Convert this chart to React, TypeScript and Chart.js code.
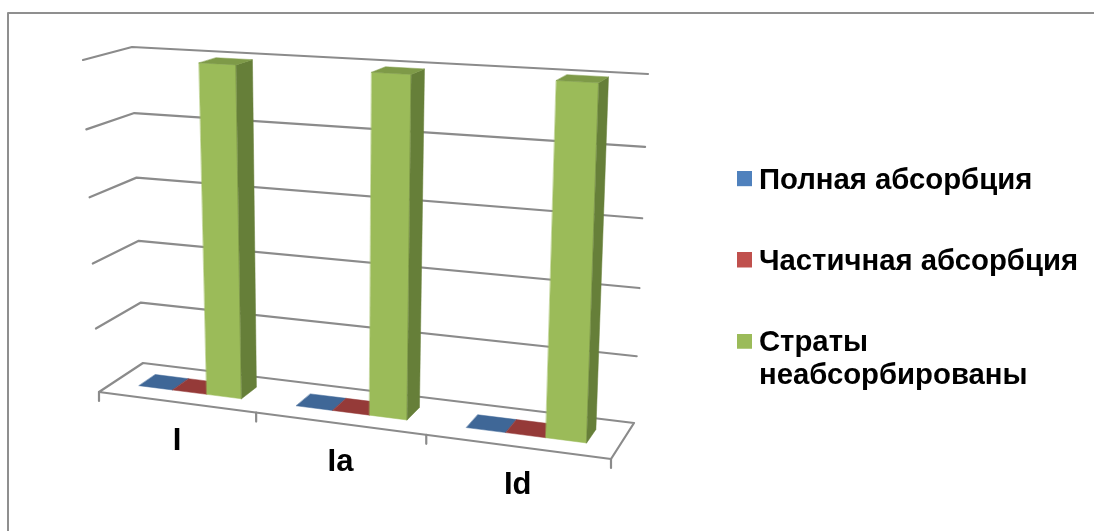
import React, { useEffect, useRef } from "react";
import { Chart, registerables } from "chart.js";

Chart.register(...registerables);

const categories = ["I", "Ia", "Id"];
const fullAbsorption = [0, 0, 0];
const partialAbsorption = [0, 0, 0];
const unabsorbedStrata = [99.5, 99.5, 100];
const valueTicks = { min: 0, max: 100, step: 20 };

type Pt = [number, number];

// Screen corners of the floor and of the ceiling of the 3D box: front-left, front-right, back-right, back-left.
const FLOOR: Pt[] = [[99, 392], [611, 459], [634, 423], [143, 363]];
const CEILING: Pt[] = [[83, 60], [624, 90], [648, 74], [132, 47]];
const BAR_DEPTH: Pt = [0.32, 0.7];
const HEIGHT_WARP = 0.946;
const LINE = "#8b8b8b";
const FONT = '"Liberation Sans", Arial, sans-serif';

function homography(q: Pt[]) {
  const [[x0, y0], [x1, y1], [x2, y2], [x3, y3]] = q;
  const dx1 = x1 - x2, dx2 = x3 - x2, sx = x0 - x1 + x2 - x3;
  const dy1 = y1 - y2, dy2 = y3 - y2, sy = y0 - y1 + y2 - y3;
  const det = dx1 * dy2 - dx2 * dy1;
  const g = (sx * dy2 - dx2 * sy) / det;
  const h = (dx1 * sy - sx * dy1) / det;
  const a = x1 - x0 + g * x1, b = x3 - x0 + h * x3;
  const d = y1 - y0 + g * y1, e = y3 - y0 + h * y3;
  return (u: number, w: number): Pt => {
    const k = g * u + h * w + 1;
    return [(a * u + b * w + x0) / k, (d * u + e * w + y0) / k];
  };
}

const floorAt = homography(FLOOR);
const ceilingAt = homography(CEILING);

// Projects a position (across, up, deep), each in 0..1, onto the canvas.
function project(u: number, v: number, w: number): Pt {
  const f = floorAt(u, w);
  const c = ceilingAt(u, w);
  const t = (HEIGHT_WARP * v) / (1 + (HEIGHT_WARP - 1) * v);
  return [f[0] + (c[0] - f[0]) * t, f[1] + (c[1] - f[1]) * t];
}

function polygon(ctx: CanvasRenderingContext2D, pts: Pt[], fill: string) {
  ctx.beginPath();
  pts.forEach((p, i) => (i ? ctx.lineTo(p[0], p[1]) : ctx.moveTo(p[0], p[1])));
  ctx.closePath();
  ctx.fillStyle = fill;
  ctx.fill();
  ctx.strokeStyle = fill;
  ctx.lineWidth = 0.5;
  ctx.stroke();
}

function polyline(ctx: CanvasRenderingContext2D, pts: Pt[], close = false) {
  ctx.beginPath();
  pts.forEach((p, i) => (i ? ctx.lineTo(p[0], p[1]) : ctx.moveTo(p[0], p[1])));
  if (close) ctx.closePath();
  ctx.stroke();
}

// Legend swatch; the extra rows below the square lift it slightly relative to the text.
function legendSwatch(color: string) {
  const c = document.createElement("canvas");
  c.width = 15;
  c.height = 19;
  const g = c.getContext("2d")!;
  g.fillStyle = color;
  g.fillRect(0, 0, 15, 15);
  return c;
}

const box3d = {
  id: "box3d",
  beforeDatasetsDraw(chart: any) {
    const { ctx, chartArea: area, scales } = chart;
    const toU = (px: number) => (px - area.left) / area.width;
    const toV = (py: number) => (area.bottom - py) / area.height;

    ctx.save();
    ctx.lineCap = "round";
    ctx.lineJoin = "round";

    // Outer frame, running off the right and bottom of the canvas
    ctx.strokeStyle = "#8f8f8f";
    ctx.lineWidth = 2;
    ctx.strokeRect(8, 13, 1200, 600);

    // Value gridlines along the side wall and the back wall
    ctx.strokeStyle = LINE;
    ctx.lineWidth = 2.2;
    for (const tick of scales.y.ticks) {
      const v = toV(scales.y.getPixelForValue(tick.value));
      if (v > 0.001) polyline(ctx, [project(0, v, 0), project(0, v, 1), project(1, v, 1)]);
    }

    // Floor outline and category tick marks
    polyline(ctx, [project(0, 0, 0), project(1, 0, 0), project(1, 0, 1), project(0, 0, 1)], true);
    for (let i = 0; i <= categories.length; i++) {
      const p = project(toU(scales.x.getPixelForValue(i - 0.5)), 0, 0);
      polyline(ctx, [p, [p[0], p[1] + 9]]);
    }

    // Bars as boxes: front face, right side, top
    chart.data.datasets.forEach((ds: any, di: number) => {
      chart.getDatasetMeta(di).data.forEach((bar: any) => {
        const u0 = toU(bar.x - bar.width / 2);
        const u1 = toU(bar.x + bar.width / 2);
        const v0 = toV(bar.base);
        const v1 = toV(bar.y);
        const [w0, w1] = BAR_DEPTH;
        if (v1 > v0) {
          polygon(ctx, [project(u0, v0, w0), project(u1, v0, w0), project(u1, v1, w0), project(u0, v1, w0)], ds.backgroundColor);
          polygon(ctx, [project(u1, v0, w0), project(u1, v0, w1), project(u1, v1, w1), project(u1, v1, w0)], ds.sideColor);
        }
        polygon(ctx, [project(u0, v1, w0), project(u1, v1, w0), project(u1, v1, w1), project(u0, v1, w1)], ds.topColor);
      });
    });

    // Category labels under the front edge of the floor
    ctx.fillStyle = "#000";
    ctx.font = `bold 31px ${FONT}`;
    ctx.textAlign = "center";
    ctx.textBaseline = "middle";
    categories.forEach((label, i) => {
      const p = project(toU(scales.x.getPixelForValue(i)), 0, 0);
      ctx.fillText(label, p[0] + 1, p[1] + 39);
    });
    ctx.restore();
    return false;
  },
};

export default function App() {
  const ref = useRef<HTMLCanvasElement>(null);
  useEffect(() => {
    const series = [
      { label: "Полная абсорбция", data: fullAbsorption, backgroundColor: "#4F81BD", topColor: "#3F6797", sideColor: "#335279", text: "Полная абсорбция" },
      { label: "Частичная абсорбция", data: partialAbsorption, backgroundColor: "#C0504D", topColor: "#953A38", sideColor: "#7A2F2D", text: "Частичная абсорбция" },
      { label: "Страты неабсорбированы", data: unabsorbedStrata, backgroundColor: "#9BBB59", topColor: "#7E9A48", sideColor: "#667F39", text: ["Страты", "неабсорбированы"] },
    ];
    const chart = new Chart(ref.current!, {
      type: "bar",
      data: { labels: categories, datasets: series as any },
      plugins: [box3d],
      options: {
        responsive: false,
        animation: false,
        layout: { padding: { top: 114, right: 6 } },
        datasets: { bar: { categoryPercentage: 0.66, barPercentage: 1 } },
        scales: {
          x: { display: false },
          y: { display: false, min: valueTicks.min, max: valueTicks.max, ticks: { stepSize: valueTicks.step } },
        },
        plugins: {
          tooltip: { enabled: false },
          legend: {
            position: "right",
            align: "start",
            labels: {
              usePointStyle: true,
              pointStyleWidth: 0.01,
              padding: 52,
              color: "#000",
              font: { family: FONT, size: 29.3, weight: "bold", lineHeight: 33 / 29.3 },
              generateLabels: () =>
                series.map((s, i) => ({
                  text: s.text,
                  datasetIndex: i,
                  fontColor: "#000",
                  pointStyle: legendSwatch(s.backgroundColor),
                  lineWidth: 0,
                })) as any,
            },
          },
        },
      },
    } as any);
    return () => chart.destroy();
  }, []);
  return (
    <canvas
      ref={ref}
      width={1094}
      height={531}
      style={{ position: "absolute", left: 0, top: 0, display: "block" }}
    />
  );
}
